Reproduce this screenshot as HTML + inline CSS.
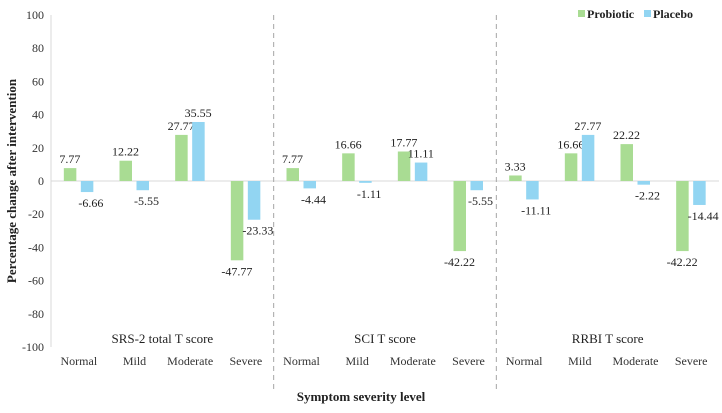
<!DOCTYPE html>
<html><head><meta charset="utf-8"><style>
body{margin:0;background:#fff;}
svg{font-family:"Liberation Serif",serif;}
</style></head><body>
<svg id="c" width="722" height="408"></svg>
<script>
const categories=["Normal","Mild","Moderate","Severe","Normal","Mild","Moderate","Severe","Normal","Mild","Moderate","Severe"];
const panels=["SRS-2 total T score","SCI T score","RRBI T score"];
const probiotic=[7.77,12.22,27.77,-47.77,7.77,16.66,17.77,-42.22,3.33,16.66,22.22,-42.22];
const placebo=[-6.66,-5.55,35.55,-23.33,-4.44,-1.11,11.11,-5.55,-11.11,27.77,-2.22,-14.44];
const yTicks=[100,80,60,40,20,0,-20,-40,-60,-80,-100];
const NS="http://www.w3.org/2000/svg";
const svg=document.getElementById('c');
const x0=51,pw=668,yTop=15,yBot=347;
const step=pw/categories.length;
const y=v=>yTop+(100-v)*(yBot-yTop)/200;
const xc=i=>x0+step*(i+0.5);
function mk(t,a,p){const e=document.createElementNS(NS,t);for(const k in a)e.setAttribute(k,a[k]);(p||svg).appendChild(e);return e;}
function tx(s,a){const e=mk('text',a);e.textContent=s;return e;}
let e;
e=mk('line',{x1:x0,x2:x0,y1:yTop,y2:yBot,stroke:'#d9d9d9'});


e=mk('line',{x1:x0,x2:x0+pw,y1:y(0),y2:y(0),stroke:'#d9d9d9'});


yTicks.forEach(t=>{
 e=tx(String(t),{x:x0-7,y:y(t)+4,'text-anchor':'end','font-size':12,fill:'#333'});
 
 
});
for(let k=1;k<panels.length;k++){
 const xx=x0+step*4*k;
 e=mk('line',{x1:xx,x2:xx,y1:yTop,y2:390,stroke:'#a6a6a6','stroke-dasharray':'5,4'});
 
 
}
panels.forEach((p,k)=>{
 e=tx(p,{x:x0+step*(4*k+2),y:343,'text-anchor':'middle','font-size':13,fill:'#222'});
 
 
});
categories.forEach((c,i)=>{
 e=tx(c,{x:xc(i),y:365,'text-anchor':'middle','font-size':12,fill:'#333'});
 
 
 [[probiotic[i],xc(i)-15,'#a9dc93','probiotic'],[placebo[i],xc(i)+2,'#92d5f2','placebo']].forEach(([v,bx,col,nm])=>{
  const top=Math.min(y(v),y(0)),h=Math.abs(y(v)-y(0));
  e=mk('rect',{x:bx,y:top,width:12.5,height:Math.max(h,0.5),fill:col});
  
  
  const ly=v>=0?y(v)-5:y(v)+15;
  e=tx(v.toFixed(2),{x:bx+6+(v<0&&nm==='placebo'?4:0),y:ly,'text-anchor':'middle','font-size':12,fill:'#222'});
  
  
 });
});
e=tx('Percentage change after intervention',{x:0,y:0,transform:'translate(16,181) rotate(-90)','text-anchor':'middle','font-size':13,'font-weight':'bold',fill:'#222'});


e=tx('Symptom  severity level',{x:361,y:401,'text-anchor':'middle','font-size':13,'font-weight':'bold',fill:'#222'});


const lg=mk('g',{});


mk('rect',{x:578,y:10,width:7,height:7,fill:'#a9dc93'},lg);
e=mk('text',{x:587,y:18,'font-size':12,'font-weight':'bold',fill:'#222'},lg);e.textContent='Probiotic';


mk('rect',{x:644,y:10,width:7,height:7,fill:'#92d5f2'},lg);
e=mk('text',{x:653,y:18,'font-size':12,'font-weight':'bold',fill:'#222'},lg);e.textContent='Placebo';


</script>
</body></html>
